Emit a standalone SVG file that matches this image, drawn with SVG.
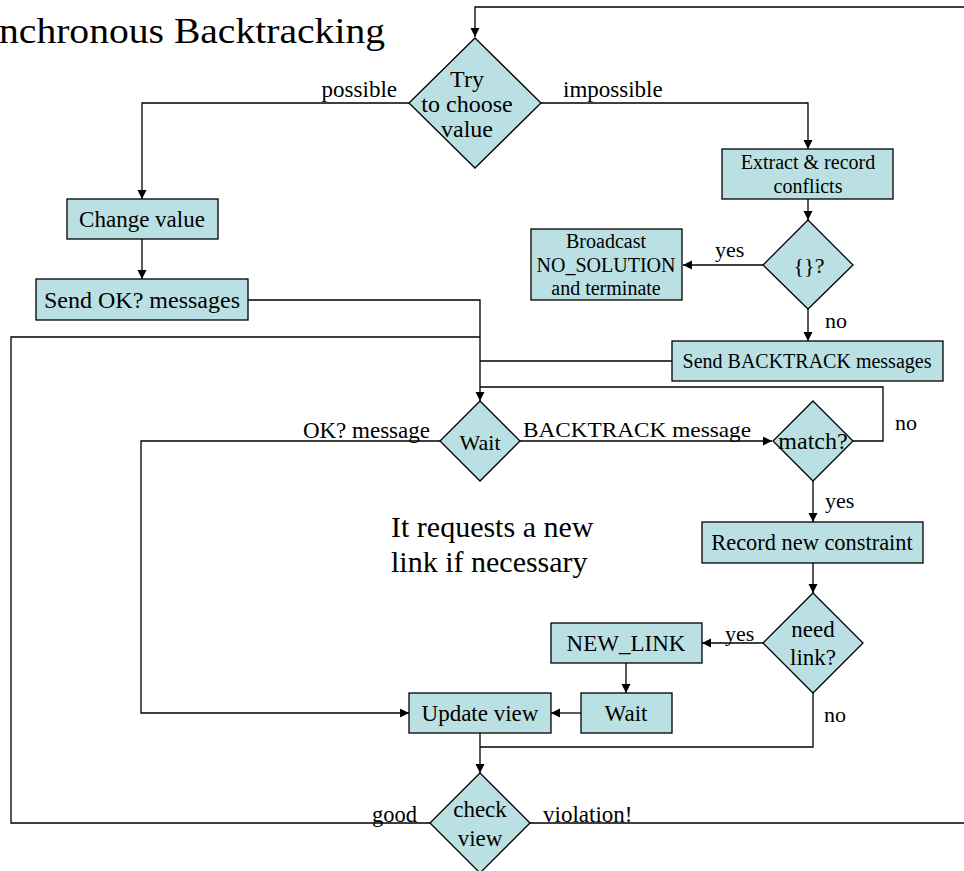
<svg xmlns="http://www.w3.org/2000/svg" width="964" height="871" viewBox="0 0 964 871">
<style>
text{font-family:"Liberation Serif","Times New Roman",serif;fill:#000;}
.n rect,.n polygon{fill:#BAE0E3;stroke:#000;stroke-width:1.3;}
.c path{fill:none;stroke:#000;stroke-width:1.3;}
.m{text-anchor:middle;}
.e{text-anchor:end;}
.f23{font-size:23px;}
.f20{font-size:20px;}
.f22{font-size:22px;}
</style>
<defs>
<marker id="ah" markerUnits="userSpaceOnUse" markerWidth="10" markerHeight="10" refX="9" refY="4.5" orient="auto">
<path d="M0,0 L9,4.5 L0,9 z" fill="#000"/>
</marker>
</defs>
<rect width="964" height="871" fill="#fff"/>
<text x="-1" y="43" font-size="35" textLength="386" lengthAdjust="spacingAndGlyphs">nchronous Backtracking</text>

<g class="c">
<path d="M530,823 H966 V7 H475 V37" marker-end="url(#ah)"/>
<path d="M409,103 H142 V199" marker-end="url(#ah)"/>
<path d="M541,103 H808 V149" marker-end="url(#ah)"/>
<path d="M808,199 V220" marker-end="url(#ah)"/>
<path d="M763,265 H683" marker-end="url(#ah)"/>
<path d="M808,309 V341" marker-end="url(#ah)"/>
<path d="M142,239 V279" marker-end="url(#ah)"/>
<path d="M248,300 H480 V401" marker-end="url(#ah)"/>
<path d="M672,361 H480"/>
<path d="M853,441 H883 V387 H480"/>
<path d="M430,823 H11 V337 H480"/>
<path d="M440,441 H141 V713 H409" marker-end="url(#ah)"/>
<path d="M520,441 H772" marker-end="url(#ah)"/>
<path d="M813,481 V522" marker-end="url(#ah)"/>
<path d="M813,563 V593" marker-end="url(#ah)"/>
<path d="M763,643 H702" marker-end="url(#ah)"/>
<path d="M626,663 V693" marker-end="url(#ah)"/>
<path d="M581,713 H551" marker-end="url(#ah)"/>
<path d="M813,693 V747 H480"/>
<path d="M480,733 V773" marker-end="url(#ah)"/>
</g>

<g id="try" class="n">
<polygon points="475,38 541,103 475,168 409,103"/>
<text class="m" font-size="24" x="467" y="87">Try</text>
<text class="m" font-size="24" x="467" y="112">to choose</text>
<text class="m" font-size="24" x="467" y="137">value</text>
</g>
<g id="change" class="n">
<rect x="67" y="199" width="151" height="40"/>
<text class="m f23" x="142" y="227">Change value</text>
</g>
<g id="sendok" class="n">
<rect x="36" y="279" width="212" height="41"/>
<text class="m" font-size="24" x="142" y="308">Send OK? messages</text>
</g>
<g id="extract" class="n">
<rect x="722" y="149" width="171" height="50"/>
<text class="m f20" x="808" y="169">Extract &amp; record</text>
<text class="m f20" x="808" y="193">conflicts</text>
</g>
<g id="empty" class="n">
<polygon points="808,220 853,265 808,309 763,265"/>
<text class="m f22" x="809" y="273">{}?</text>
</g>
<g id="broadcast" class="n">
<rect x="531" y="229" width="151" height="71"/>
<text class="m f20" x="606" y="248">Broadcast</text>
<text class="m f20" x="606" y="272">NO_SOLUTION</text>
<text class="m f20" x="606" y="295">and terminate</text>
</g>
<g id="sendbt" class="n">
<rect x="672" y="341" width="271" height="40"/>
<text class="m" font-size="20" x="807" y="368">Send BACKTRACK messages</text>
</g>
<g id="wait" class="n">
<polygon points="480,401 520,441 480,481 440,441"/>
<text class="m f22" x="480" y="450">Wait</text>
</g>
<g id="match" class="n">
<polygon points="813,401 853,441 813,481 773,441"/>
<text class="m" font-size="24" x="813" y="449">match?</text>
</g>
<g id="record" class="n">
<rect x="702" y="522" width="221" height="41"/>
<text class="m" font-size="22.4" x="812" y="550">Record new constraint</text>
</g>
<g id="needlink" class="n">
<polygon points="813,593 863,643 813,693 763,643"/>
<text class="m f23" x="813" y="637">need</text>
<text class="m f23" x="813" y="665">link?</text>
</g>
<g id="newlink" class="n">
<rect x="551" y="623" width="151" height="40"/>
<text class="m f23" x="626" y="651">NEW_LINK</text>
</g>
<g id="wait2" class="n">
<rect x="581" y="693" width="91" height="40"/>
<text class="m f23" x="626" y="721">Wait</text>
</g>
<g id="update" class="n">
<rect x="409" y="693" width="142" height="40"/>
<text class="m f23" x="480" y="721">Update view</text>
</g>
<g id="check" class="n">
<polygon points="480,773 530,823 480,873 430,823"/>
<text class="m f23" x="480" y="817">check</text>
<text class="m f23" x="480" y="846">view</text>
</g>

<g id="labels">
<text class="e f23" x="397" y="97">possible</text>
<text class="f23" x="563" y="97">impossible</text>
<text class="f22" x="715" y="257">yes</text>
<text class="f22" x="825" y="328">no</text>
<text class="f22" x="895" y="430">no</text>
<text class="e f23" x="430" y="438">OK? message</text>
<text font-size="22" x="523" y="437" textLength="228" lengthAdjust="spacingAndGlyphs">BACKTRACK message</text>
<text class="f22" x="825" y="508">yes</text>
<text class="f22" x="725" y="641">yes</text>
<text class="f22" x="824" y="722">no</text>
<text class="e" font-size="22.5" x="417" y="822">good</text>
<text class="f23" x="543" y="822">violation!</text>
<text font-size="30" x="391" y="537">It requests a new</text>
<text font-size="30" x="391" y="572">link if necessary</text>
</g>
</svg>
